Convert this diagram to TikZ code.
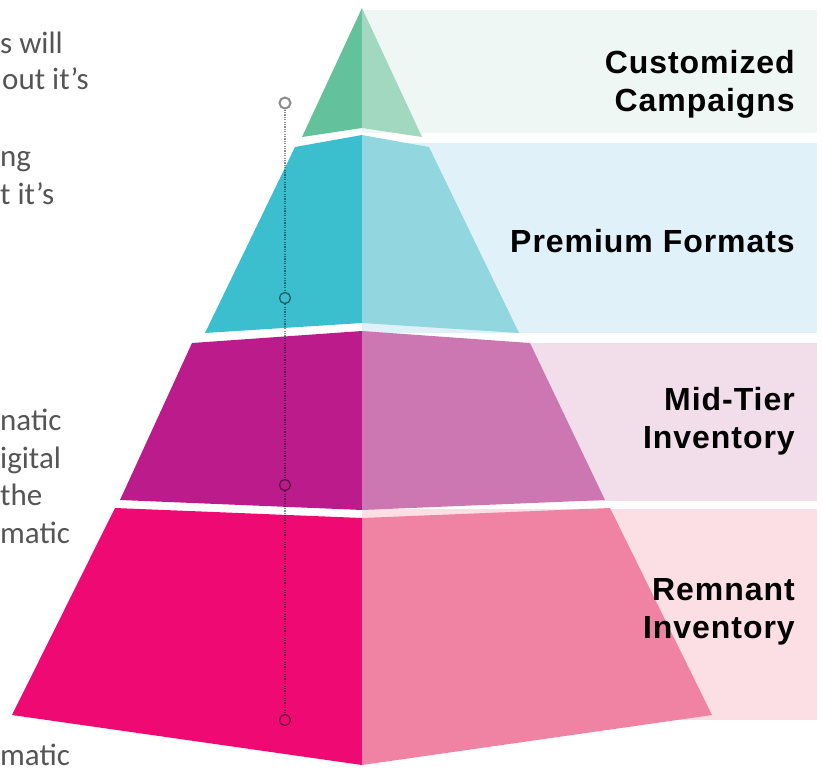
\documentclass[tikz,border=0pt]{standalone}
\usepackage{fontspec}
\setmainfont{Liberation Sans}
\newfontfamily\labfont[LetterSpace=3]{Liberation Sans}
\newfontfamily\sidefont{Carlito}
\definecolor{gL}{HTML}{63C19B}
\definecolor{gR}{HTML}{A2D8BF}
\definecolor{tL}{HTML}{3BBFCF}
\definecolor{tR}{HTML}{92D6DF}
\definecolor{pL}{HTML}{BC1C8B}
\definecolor{pR}{HTML}{CC77B2}
\definecolor{kL}{HTML}{EE0A72}
\definecolor{kR}{HTML}{F083A3}
\definecolor{b1}{HTML}{EFF7F5}
\definecolor{b2}{HTML}{E1F1F9}
\definecolor{b3}{HTML}{F2DDEB}
\definecolor{b4}{HTML}{FCDEE5}
\definecolor{sidegray}{HTML}{555555}
\begin{document}
\begin{tikzpicture}[x=1pt,y=-1pt,
  label/.style={font=\labfont\bfseries\fontsize{32}{38}\selectfont, text=black, inner sep=0pt, align=right},
  side/.style={font=\sidefont\fontsize{31}{38}\selectfont, text=sidegray, inner sep=0pt, anchor=base west},
  ring/.style={circle, draw=black, draw opacity=0.5, line width=1.3pt, minimum size=11pt, inner sep=0pt},
  ringtop/.style={circle, draw=black!45, line width=2pt, fill=white, minimum size=11pt, inner sep=0pt},
  dots/.style={draw=black, draw opacity=0.45, line width=1.3pt, dash pattern=on 1.2pt off 1.2pt}]
\useasboundingbox (0,0) rectangle (822,771);
% background bands
\fill[b1] (362,10) rectangle (817,133);
\fill[b2] (362,143) rectangle (817,333);
\fill[b3] (362,343) rectangle (817,501);
\fill[b4] (362,509) rectangle (817,720);
% green tier
\fill[gL] (362,8) -- (302,137) -- (362,128) -- cycle;
\fill[gR] (362,8) -- (362,128) -- (422,137) -- cycle;
% teal tier
\fill[tL] (362,135) -- (295,147) -- (205,333) -- (362,323) -- cycle;
\fill[tR] (362,135) -- (429,147) -- (519,333) -- (362,323) -- cycle;
% purple tier
\fill[pL] (362,331) -- (192,343) -- (120,500) -- (362,510) -- cycle;
\fill[pR] (362,331) -- (530,343) -- (605,500) -- (362,510) -- cycle;
% pink tier
\fill[kL] (362,518) -- (115,508) -- (12,715) -- (362,765) -- cycle;
\fill[kR] (362,518) -- (610,508) -- (712,715) -- (362,765) -- cycle;
% labels
\node[label, anchor=east] (l1) at (795,84) {Customized\\Campaigns};
\node[label, anchor=base east] (l2) at (795,252) {Premium Formats};
\node[label, anchor=east] (l3) at (795,421) {Mid-Tier\\Inventory};
\node[label, anchor=east] (l4) at (795,612) {Remnant\\Inventory};
% left text fragments
\node[side] (s1) at (0,53) {s will};
\node[side] (s2) at (2,89) {out it’s};
\node[side] (s3) at (0,166) {ng};
\node[side] (s4) at (0,204) {t it’s};
\node[side] (s5) at (0,430) {natic};
\node[side] (s6) at (0,468) {igital};
\node[side] (s7) at (0,505) {the};
\node[side] (s8) at (0,543) {matic};
\node[side] (s9) at (0,765) {matic};
% dotted guide with rings
\node[ringtop] (c1) at (285,103) {};
\node[ring] (c2) at (285,298) {};
\node[ring] (c3) at (285,485) {};
\node[ring] (c4) at (285,720) {};
\draw[dots] (c1) -- (c2);
\draw[dots] (c2) -- (c3);
\draw[dots] (c3) -- (c4);
\end{tikzpicture}
\end{document}
